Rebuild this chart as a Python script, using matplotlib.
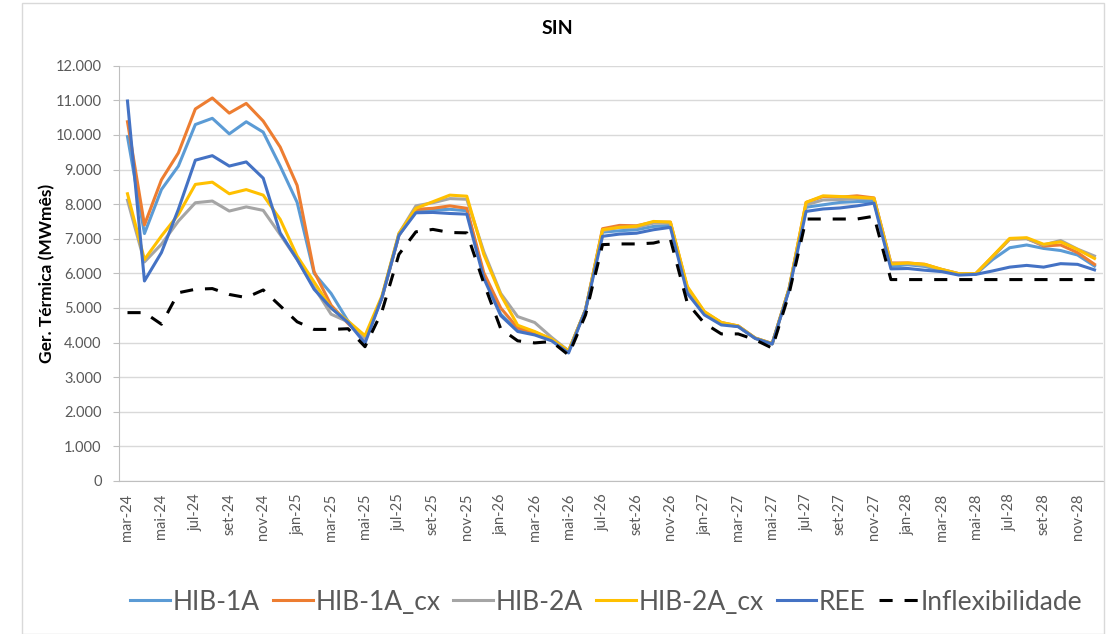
import matplotlib
matplotlib.use("Agg")
import matplotlib.pyplot as plt
from matplotlib.patches import Rectangle
from matplotlib.ticker import FuncFormatter, MultipleLocator

# ---------------- data ----------------
month_names = ["jan", "fev", "mar", "abr", "mai", "jun",
               "jul", "ago", "set", "out", "nov", "dez"]
months = []
for y in range(24, 29):
    for m in range(12):
        if y == 24 and m < 2:
            continue
        months.append(f"{month_names[m]}-{y}")

hib_1a = [9950, 7150, 8420, 9100, 10300, 10480, 10030, 10380, 10080, 9100,
          8050, 6000, 5420, 4620, 4050, 5300, 7100, 7800, 7830, 7850,
          7810, 5950, 4820, 4350, 4250, 4100, 3750, 4950, 7190, 7230,
          7260, 7355, 7385, 5500, 4850, 4550, 4460, 4120, 3960, 5550,
          7910, 7980, 8050, 8075, 8080, 6200, 6250, 6200, 6080, 5970,
          5980, 6400, 6740, 6820, 6720, 6660, 6530, 6210]

hib_1a_cx = [10380, 7400, 8700, 9480, 10750, 11067, 10630, 10910, 10400, 9650,
             8540, 6050, 5080, 4550, 4100, 5300, 7100, 7850, 7880, 7950,
             7880, 6020, 5000, 4420, 4300, 4100, 3750, 4950, 7290, 7385,
             7375, 7480, 7480, 5580, 4880, 4580, 4480, 4130, 3970, 5560,
             8050, 8220, 8200, 8240, 8180, 6300, 6300, 6260, 6110, 5990,
             5990, 6480, 6990, 7010, 6790, 6820, 6600, 6260]

hib_2a = [8115, 6330, 6840, 7510, 8040, 8090, 7800, 7920, 7820, 7120,
          6400, 5600, 4820, 4600, 4100, 5300, 7150, 7950, 8040, 8160,
          8140, 6630, 5420, 4750, 4580, 4150, 3760, 4950, 7230, 7330,
          7330, 7450, 7450, 5580, 4870, 4570, 4470, 4130, 3970, 5560,
          7980, 8120, 8130, 8160, 8160, 6280, 6280, 6230, 6110, 5990,
          5990, 6480, 6990, 7000, 6820, 6950, 6700, 6500]

hib_2a_cx = [8300, 6400, 7077, 7700, 8570, 8635, 8300, 8420, 8260, 7560,
             6500, 5750, 5000, 4620, 4200, 5350, 7150, 7880, 8070, 8260,
             8230, 6550, 5380, 4500, 4320, 4100, 3760, 4950, 7260, 7330,
             7360, 7500, 7480, 5620, 4900, 4580, 4480, 4130, 3970, 5570,
             8050, 8240, 8220, 8200, 8170, 6270, 6300, 6260, 6115, 5990,
             5990, 6500, 7010, 7030, 6840, 6910, 6690, 6430]

ree = [10980, 5780, 6600, 7850, 9270, 9400, 9100, 9220, 8750, 7170,
       6400, 5540, 5000, 4580, 3980, 5300, 7100, 7750, 7760, 7730,
       7710, 5860, 4780, 4320, 4220, 4050, 3700, 4940, 7070, 7135,
       7160, 7260, 7330, 5420, 4800, 4510, 4460, 4120, 3960, 5520,
       7790, 7860, 7890, 7950, 8030, 6130, 6140, 6090, 6050, 5950,
       5970, 6070, 6180, 6230, 6180, 6280, 6260, 6100]

inflex = [4865, 4865, 4530, 5440, 5540, 5560, 5390, 5300, 5520, 5060,
          4600, 4380, 4380, 4400, 3880, 4900, 6550, 7200, 7270, 7180,
          7170, 5720, 4400, 4050, 3990, 4030, 3640, 4800, 6830, 6850,
          6850, 6875, 6990, 5140, 4560, 4250, 4250, 4080, 3840, 5420,
          7570, 7570, 7570, 7570, 7650, 5820, 5820, 5820, 5820, 5820,
          5820, 5820, 5820, 5820, 5820, 5820, 5820, 5820]

series_names = ["HIB-1A", "HIB-1A_cx", "HIB-2A", "HIB-2A_cx", "REE", "Inflexibilidade"]
series_values = [hib_1a, hib_1a_cx, hib_2a, hib_2a_cx, ree, inflex]
series_colors = ["#5B9BD5", "#ED7D31", "#A5A5A5", "#FFC000", "#4472C4", "#000000"]

# ---------------- figure ----------------
plt.rcParams['font.family'] = ['Lato', 'DejaVu Sans']
W, H = 1113, 634
fig = plt.figure(figsize=(W / 100, H / 100), dpi=100)
fig.patch.set_facecolor("white")

# chart border
fig.patches.append(Rectangle((22 / W, 0), (1104 - 22) / W, 1 - 3 / H,
                             transform=fig.transFigure, fill=False,
                             edgecolor="#D9D9D9", linewidth=1.0))

ax = fig.add_axes([119 / W, 1 - 481 / H, (1103 - 119) / W, (481 - 65.7) / H])
x = list(range(len(months)))

lw = 2.2
for name, vals, col in zip(series_names, series_values, series_colors):
    if name == "Inflexibilidade":
        ax.plot(x, vals, color=col, lw=lw, dashes=(4.3, 3.9), label=name,
                solid_joinstyle="round", dash_capstyle="butt")
    else:
        ax.plot(x, vals, color=col, lw=lw, label=name, solid_joinstyle="round")

ax.set_xlim(-0.5, len(months) - 0.5)
ax.set_ylim(0, 12000)
ax.yaxis.set_major_locator(MultipleLocator(1000))
ax.yaxis.set_major_formatter(FuncFormatter(lambda v, p: f"{int(v):,}".replace(",", ".")))
ax.grid(axis="y", color="#D9D9D9", linewidth=1.0)
ax.set_axisbelow(True)

ax.set_xticks(x[::2])
ax.set_xticklabels(months[::2], rotation=90)

for s in ["top", "right"]:
    ax.spines[s].set_visible(False)
ax.spines["left"].set_color("#BFBFBF")
ax.spines["bottom"].set_color("#BFBFBF")
ax.tick_params(axis="y", length=4.5, color="#BFBFBF", labelsize=10.5,
               labelcolor="#595959", pad=8)
ax.tick_params(axis="x", length=0, labelsize=10.5, labelcolor="#595959", pad=9)

ax.set_ylabel("Ger. Térmica (MWmês)", fontsize=12.5, fontweight="bold",
              color="#000000")
ax.yaxis.set_label_coords(-64 / (1103 - 119), 0.5)

fig.text(557 / W, 1 - 28 / H, "SIN", ha="center", va="center",
         fontsize=14, fontweight="bold", color="#000000")

leg = fig.legend(loc="center", bbox_to_anchor=(0.545, 1 - 602 / H), ncol=6,
                 frameon=False, fontsize=19, handlelength=1.5,
                 handletextpad=0.1, columnspacing=0.5)
for t in leg.get_texts():
    t.set_color("#595959")

fig.savefig("out.png", dpi=100, facecolor="white")
